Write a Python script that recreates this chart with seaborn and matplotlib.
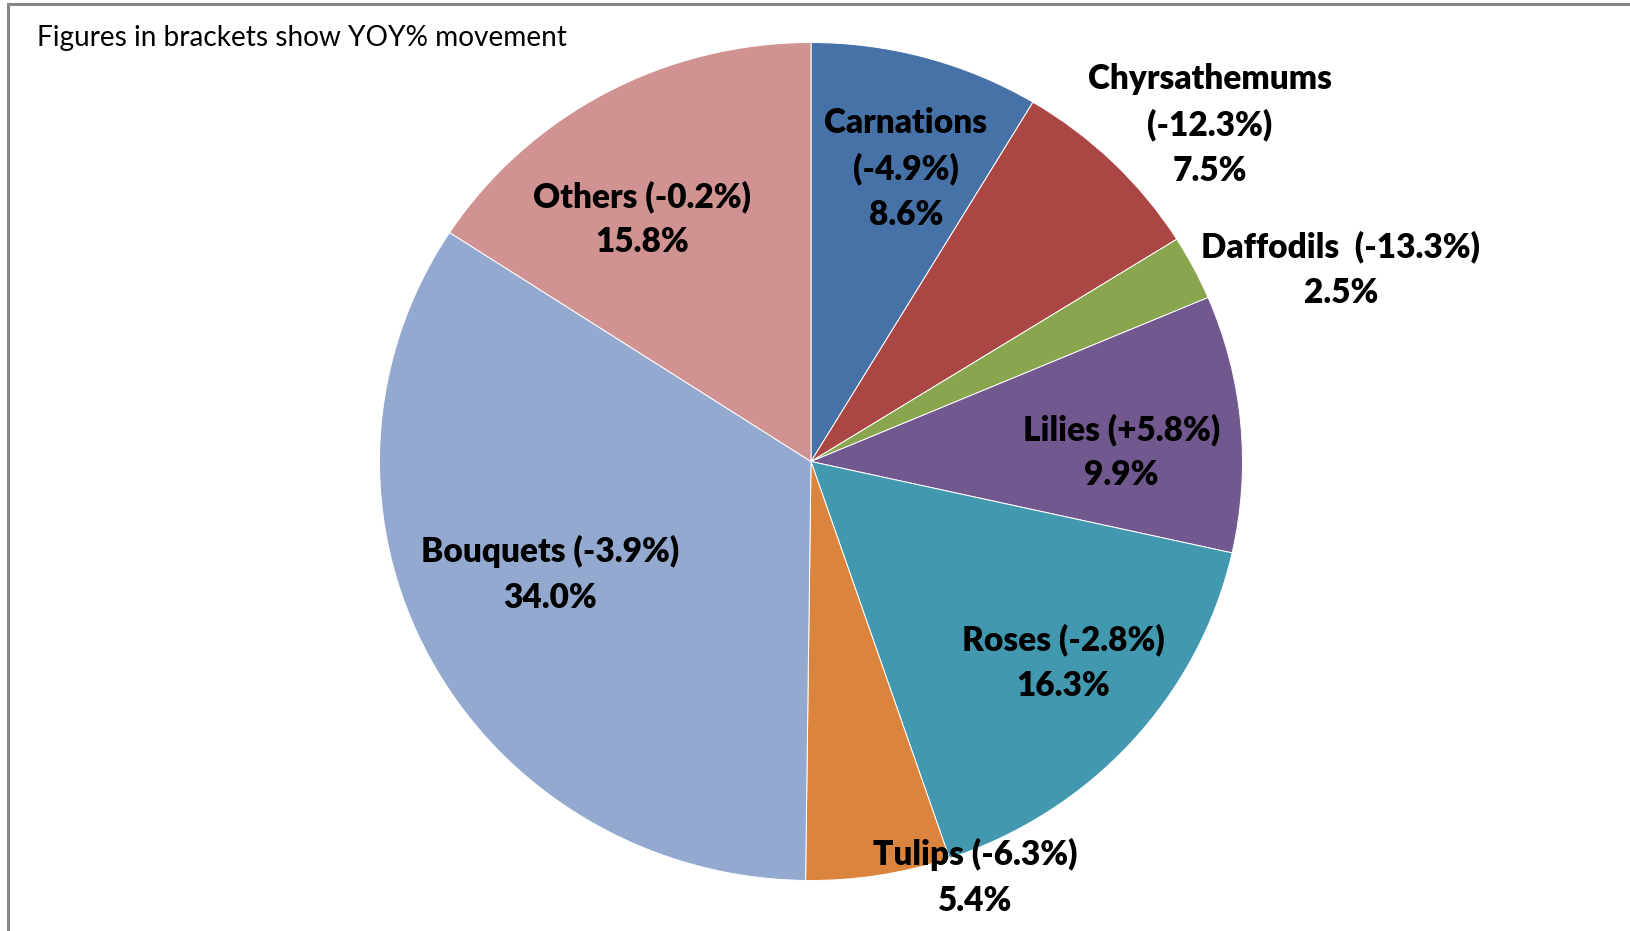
import numpy as np
import seaborn as sns
import matplotlib.pyplot as plt
from matplotlib.patches import Rectangle

# datos
categorias = ["Carnations", "Chyrsathemums", "Daffodils", "Lilies", "Roses", "Tulips", "Bouquets", "Others"]
cuota = [8.6, 7.5, 2.5, 9.9, 16.3, 5.4, 34.0, 15.8]
yoy = ["-4.9%", "-12.3%", "-13.3%", "+5.8%", "-2.8%", "-6.3%", "-3.9%", "-0.2%"]
colores = ["#4672A8", "#AA4643", "#89A54E", "#71588F", "#4198AF", "#DB843D", "#93A9CF", "#D19392"]

# textos de cada etiqueta (como en el original)
etiquetas = [
    "Carnations\n(-4.9%)\n8.6%",
    "Chyrsathemums\n(-12.3%)\n7.5%",
    "Daffodils  (-13.3%)\n2.5%",
    "Lilies (+5.8%)\n9.9%",
    "Roses (-2.8%)\n16.3%",
    "Tulips (-6.3%)\n5.4%",
    "Bouquets (-3.9%)\n34.0%",
    "Others (-0.2%)\n15.8%",
]
# posiciones de las etiquetas en unidades del radio
pos_etiquetas = [(0.220, 0.698), (0.924, 0.803), (1.228, 0.457), (0.719, 0.022),
                 (0.584, -0.481), (0.380, -0.993), (-0.605, -0.269), (-0.391, 0.578)]

sns.set_theme(style="white")
plt.rcParams["font.family"] = ["Lato", "DejaVu Sans"]

W, H = 1630, 931
fig = plt.figure(figsize=(W / 100, H / 100), dpi=100)
fig.patch.set_facecolor("white")

# marco gris (solo se ven borde izquierdo y superior)
fig.patches.append(Rectangle((8 / W, -0.1), 1.2, (H - 4) / H + 0.1, transform=fig.transFigure,
                             fill=False, edgecolor="#868686", linewidth=2.2))

# el pastel original esta un poco estirado en horizontal
cx, cy, rx, ry = 811, 461.5, 431.5, 419
ax = fig.add_axes([(cx - rx) / W, (H - cy - ry) / H, 2 * rx / W, 2 * ry / H])
ax.pie(cuota, colors=colores, startangle=90, counterclock=False, radius=1,
       wedgeprops=dict(edgecolor="white", linewidth=0.7))
ax.set_aspect("auto")
ax.set_xlim(-1, 1)
ax.set_ylim(-1, 1)
ax.axis("off")

for txt, (x, y) in zip(etiquetas, pos_etiquetas):
    ax.text(x, y, txt, ha="center", va="center", fontsize=24, fontweight="heavy",
            color="black", linespacing=1.52, clip_on=False)

fig.text(37 / W, 1 - 38 / H, "Figures in brackets show YOY% movement", ha="left", va="center",
         fontsize=20.2, color="black")

fig.savefig("out.png", dpi=100)
